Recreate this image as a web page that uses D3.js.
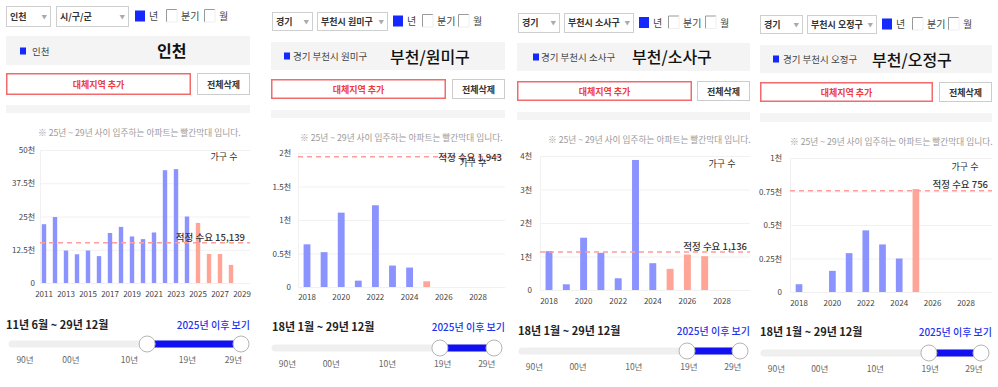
<!DOCTYPE html>
<html>
<head>
<meta charset="utf-8">
<script src="https://cdn.jsdelivr.net/npm/d3@7"></script>
<style>
body { margin: 0; background: #fff; }
svg { display: block; font-family: "Noto Sans CJK KR", "Noto Sans", sans-serif; }
</style>
</head>
<body>
<div id="canvas"></div>
<script>
var w = 998;
var h = 387;

// data (가구 수)
var incheonYears = [2011, 2012, 2013, 2014, 2015, 2016, 2017, 2018, 2019, 2020,
                    2021, 2022, 2023, 2024, 2025, 2026, 2027, 2028, 2029];
var incheonUnits = [22100, 24800, 12200, 10800, 12200, 10100, 18800, 21100, 17500, 16500,
                    19000, 42400, 42800, 25000, 22600, 10900, 10900, 6800, 0];
var incheonDemand = 15139;
var incheonYTicks = [0, 12500, 25000, 37500, 50000];
var incheonXTicks = [2011, 2013, 2015, 2017, 2019, 2021, 2023, 2025, 2027, 2029];

var bucheonYears = [2018, 2019, 2020, 2021, 2022, 2023, 2024, 2025, 2026, 2027, 2028, 2029];
var bucheonXTicks = [2018, 2020, 2022, 2024, 2026, 2028];

var wonmiUnits = [637, 520, 1110, 95, 1220, 320, 290, 85, 0, 0, 0, 0];
var wonmiDemand = 1943;
var wonmiYTicks = [0, 500, 1000, 1500, 2000];

var sosaUnits = [1160, 170, 1560, 1110, 350, 3880, 800, 630, 1060, 1010, 0, 0];
var sosaDemand = 1136;
var sosaYTicks = [0, 1000, 2000, 3000, 4000];

var ojeongUnits = [58, 0, 158, 290, 460, 355, 250, 768, 0, 0, 0, 0];
var ojeongDemand = 756;
var ojeongYTicks = [0, 250, 500, 750, 1000];

var futureFrom = 2025;
var sliderLabels = ["90년", "00년", "10년", "19년", "29년"];
var noteText = "※ 25년 ~ 29년 사이 입주하는 아파트는 빨간막대 입니다.";

var blue = "#8b93ff";
var red = "#ffa597";

var canvas = d3.select("#canvas")
    .append("svg")
    .attr("width", w)
    .attr("height", h)
    .style("background-color", "white");

var panels = [
  { sel1: "인천", sel2: "시/구/군", label: "인천", title: "인천", titleBold: true,
    years: incheonYears, units: incheonUnits, demand: incheonDemand,
    yTicks: incheonYTicks, xTicks: incheonXTicks, range: "11년 6월 ~ 29년 12월",
    lay: { selY: [6, 26], sel1: [6, 50], sel2: [56, 128], chkY: 16, chk: [135, 166, 204],
           box: [6, 250, 36, 65], sq: [20, 51], labelX: 32, titleX: 157, titleY: 51,
           btn1: [6, 191], btn2: [197, 250], btnY: [73, 95], strip: [105, 113], note: [38, 133],
           plot: [40, 250, 150, 283], band: [38.5, 247.5], yPad: 5, xPad: 8,
           hh: [224, 160], dl: [245, 241], rangeY: 325, track: [12, 241, 344], handle0: 0.59, slY: 359 } },
  { sel1: "경기", sel2: "부천시 원미구", label: "경기 부천시 원미구", title: "부천/원미구", titleBold: false,
    years: bucheonYears, units: wonmiUnits, demand: wonmiDemand,
    yTicks: wonmiYTicks, xTicks: bucheonXTicks, range: "18년 1월 ~ 29년 12월",
    lay: { selY: [12, 30], sel1: [272, 312], sel2: [317, 387], chkY: 21, chk: [393, 422, 458],
           box: [271, 505, 42, 70], sq: [284, 56], labelX: 293, titleX: 390, titleY: 57,
           btn1: [271, 446], btn2: [452, 505], btnY: [79, 99], strip: [110, 118], note: [300, 138],
           plot: [298, 505, 153, 287], band: [298.45, 503.65], yPad: 7, xPad: 7,
           hh: [473, 165.5], dl: [502, 160.5], rangeY: 327, track: [275, 494, 348], handle0: 0.753, slY: 363 } },
  { sel1: "경기", sel2: "부천시 소사구", label: "경기 부천시 소사구", title: "부천/소사구", titleBold: false,
    years: bucheonYears, units: sosaUnits, demand: sosaDemand,
    yTicks: sosaYTicks, xTicks: bucheonXTicks, range: "18년 1월 ~ 29년 12월",
    lay: { selY: [13, 32], sel1: [518, 559], sel2: [564, 633], chkY: 22.5, chk: [639, 668, 705],
           box: [517, 750, 43, 71], sq: [533, 57], labelX: 541, titleX: 632, titleY: 57,
           btn1: [517, 692], btn2: [697, 750], btnY: [81, 101], strip: [112, 120], note: [548, 140],
           plot: [540, 750, 156, 290], band: [540.35, 747.95], yPad: 8, xPad: 8,
           hh: [722, 166.5], dl: [747, 249.5], rangeY: 331, track: [522, 740, 351], handle0: 0.757, slY: 366 } },
  { sel1: "경기", sel2: "부천시 오정구", label: "경기 부천시 오정구", title: "부천/오정구", titleBold: false,
    years: bucheonYears, units: ojeongUnits, demand: ojeongDemand,
    yTicks: ojeongYTicks, xTicks: bucheonXTicks, range: "18년 1월 ~ 29년 12월",
    lay: { selY: [15, 33], sel1: [760, 802], sel2: [807, 876], chkY: 24, chk: [882, 912, 948],
           box: [760, 992, 45, 73], sq: [773, 59], labelX: 783, titleX: 872, titleY: 60,
           btn1: [760, 933], btn2: [939, 992], btnY: [82, 102], strip: [113, 122], note: [790, 142],
           plot: [790, 992, 158, 292], band: [790.65, 991.05], yPad: 8, xPad: 8,
           hh: [965, 169.5], dl: [988, 187.5], rangeY: 332, track: [764, 981, 353], handle0: 0.76, slY: 368 } }
];

var sliderFractions = [0.057, 0.257, 0.513, 0.766, 0.967];

function tickLabel(d) {
    return d === 0 ? "0" : (d / 1000) + "천";
}

function drawPanel(p) {
    var L = p.lay;
    var g = canvas.append("g");

    // selects
    [[L.sel1, p.sel1], [L.sel2, p.sel2]].forEach(function (s) {
        g.append("rect")
            .attr("x", s[0][0] + 0.5).attr("y", L.selY[0] + 0.5)
            .attr("width", s[0][1] - s[0][0]).attr("height", L.selY[1] - L.selY[0])
            .attr("fill", "#fff").attr("stroke", "#cfcfcf");
        g.append("text")
            .attr("x", s[0][0] + 4).attr("y", (L.selY[0] + L.selY[1]) / 2 + 3.5)
            .attr("font-size", 9).attr("font-weight", 700).attr("fill", "#333")
            .text(s[1]);
        g.append("text")
            .attr("x", s[0][1] - 3).attr("y", (L.selY[0] + L.selY[1]) / 2 + 2.5)
            .attr("text-anchor", "end")
            .attr("font-size", 5.5).attr("fill", "#aaa")
            .text("▼");
    });

    // checkboxes
    g.append("rect")
        .attr("x", L.chk[0]).attr("y", L.chkY - 5.5)
        .attr("width", 10).attr("height", 11)
        .attr("fill", "#1428ff");
    g.append("text").attr("x", L.chk[0] + 14).attr("y", L.chkY + 4)
        .attr("font-size", 10).attr("fill", "#444").text("년");
    [[L.chk[1], "분기"], [L.chk[2], "월"]].forEach(function (c) {
        g.append("path")
            .attr("d", "M" + (c[0] + 0.5) + "," + (L.chkY + 6) + "V" + (L.chkY - 6.5) + "H" + (c[0] + 11))
            .attr("fill", "none").attr("stroke", "#9a9a9a");
        g.append("path")
            .attr("d", "M" + (c[0] + 11) + "," + (L.chkY - 6.5) + "V" + (L.chkY + 6) + "H" + (c[0] + 0.5))
            .attr("fill", "none").attr("stroke", "#eee");
        g.append("text").attr("x", c[0] + 15).attr("y", L.chkY + 4)
            .attr("font-size", 10).attr("fill", "#444").text(c[1]);
    });

    // header box
    g.append("rect")
        .attr("x", L.box[0]).attr("y", L.box[2])
        .attr("width", L.box[1] - L.box[0]).attr("height", L.box[3] - L.box[2])
        .attr("fill", "#f4f4f4");
    g.append("rect")
        .attr("x", L.sq[0]).attr("y", L.sq[1] - 3.5)
        .attr("width", 6).attr("height", 7)
        .attr("fill", "#1428ff");
    g.append("text")
        .attr("x", L.labelX).attr("y", L.sq[1] + 3.5)
        .attr("font-size", 9.5).attr("fill", "#444")
        .text(p.label);
    g.append("text")
        .attr("x", L.titleX).attr("y", L.titleY + 5.5)
        .attr("font-size", 16).attr("font-weight", p.titleBold ? 700 : 500).attr("fill", "#111")
        .text(p.title);

    // buttons
    g.append("rect")
        .attr("x", L.btn1[0] + 0.75).attr("y", L.btnY[0] + 0.75)
        .attr("width", L.btn1[1] - L.btn1[0] - 1.5).attr("height", L.btnY[1] - L.btnY[0] - 1.5)
        .attr("fill", "#fff").attr("stroke", "#f26a6a").attr("stroke-width", 1.5);
    g.append("text")
        .attr("x", (L.btn1[0] + L.btn1[1]) / 2).attr("y", (L.btnY[0] + L.btnY[1]) / 2 + 3.5)
        .attr("text-anchor", "middle")
        .attr("font-size", 9).attr("font-weight", 700).attr("fill", "#ee3b3b")
        .text("대체지역 추가");
    g.append("rect")
        .attr("x", L.btn2[0] + 0.5).attr("y", L.btnY[0] + 0.5)
        .attr("width", L.btn2[1] - L.btn2[0] - 1).attr("height", L.btnY[1] - L.btnY[0] - 1)
        .attr("fill", "#fff").attr("stroke", "#ccc");
    g.append("text")
        .attr("x", (L.btn2[0] + L.btn2[1]) / 2).attr("y", (L.btnY[0] + L.btnY[1]) / 2 + 3.5)
        .attr("text-anchor", "middle")
        .attr("font-size", 9).attr("font-weight", 700).attr("fill", "#333")
        .text("전체삭제");

    g.append("rect")
        .attr("x", L.box[0]).attr("y", L.strip[0])
        .attr("width", L.box[1] - L.box[0]).attr("height", L.strip[1] - L.strip[0])
        .attr("fill", "#f4f4f4");

    g.append("text")
        .attr("x", L.note[0]).attr("y", L.note[1] + 3)
        .attr("font-size", 8.7).attr("fill", "#9a9a9a")
        .text(noteText);

    // chart
    var xScale = d3.scaleBand()
        .domain(p.years)
        .range(L.band)
        .paddingInner(0.6)
        .paddingOuter(0.3);
    var yScale = d3.scaleLinear()
        .domain([0, p.yTicks[p.yTicks.length - 1]])
        .range([L.plot[3], L.plot[2]]);

    g.selectAll(".grid")
        .data(p.yTicks)
        .join("line")
        .attr("x1", L.plot[0]).attr("x2", L.plot[1])
        .attr("y1", d => yScale(d) + 0.5).attr("y2", d => yScale(d) + 0.5)
        .attr("stroke", "#f1f1f1");
    g.append("line")
        .attr("x1", L.plot[0] + 0.5).attr("x2", L.plot[0] + 0.5)
        .attr("y1", L.plot[2]).attr("y2", L.plot[3])
        .attr("stroke", "#f1f1f1");

    var yAxis = d3.axisLeft(yScale)
        .tickValues(p.yTicks)
        .tickFormat(tickLabel)
        .tickSize(0)
        .tickPadding(L.yPad);
    var ya = g.append("g")
        .attr("transform", `translate(${L.plot[0]}, 0)`)
        .call(yAxis);
    ya.select(".domain").remove();
    ya.selectAll("text").attr("font-size", 8).attr("fill", "#444")
        .attr("font-family", "'Noto Sans CJK KR', sans-serif");

    var xAxis = d3.axisBottom(xScale)
        .tickValues(p.xTicks)
        .tickSize(0)
        .tickPadding(L.xPad);
    var xa = g.append("g")
        .attr("transform", `translate(0, ${L.plot[3]})`)
        .call(xAxis);
    xa.select(".domain").remove();
    xa.selectAll("text").attr("font-size", 8).attr("fill", "#444")
        .attr("font-family", "'Noto Sans CJK KR', sans-serif");

    g.selectAll(".bar")
        .data(p.years.map((y, i) => ({ year: y, v: p.units[i] })).filter(d => d.v > 0))
        .join("rect")
        .attr("x", d => xScale(d.year))
        .attr("width", xScale.bandwidth())
        .attr("y", d => yScale(d.v))
        .attr("height", d => yScale(0) - yScale(d.v))
        .attr("fill", d => d.year >= futureFrom ? red : blue);

    g.append("line")
        .attr("x1", L.plot[0]).attr("x2", L.plot[1])
        .attr("y1", yScale(p.demand)).attr("y2", yScale(p.demand))
        .attr("stroke", "#ff9c9c").attr("stroke-width", 1.5)
        .attr("stroke-dasharray", "5,4");

    g.append("text")
        .attr("x", L.hh[0]).attr("y", L.hh[1])
        .attr("text-anchor", "middle")
        .attr("font-size", 9).attr("fill", "#333")
        .text("가구 수");
    g.append("text")
        .attr("x", L.dl[0]).attr("y", L.dl[1])
        .attr("text-anchor", "end")
        .attr("font-size", 9.5).attr("font-weight", 500).attr("fill", "#333")
        .text("적정 수요 " + d3.format(",")(p.demand));

    // period slider
    g.append("text")
        .attr("x", L.sel1[0]).attr("y", L.rangeY + 4)
        .attr("font-size", 11).attr("font-weight", 700).attr("fill", "#222")
        .text(p.range);
    g.append("text")
        .attr("x", L.box[1]).attr("y", L.rangeY + 4)
        .attr("text-anchor", "end")
        .attr("font-size", 10).attr("font-weight", 500).attr("fill", "#2233ee")
        .text("2025년 이후 보기");

    var sx = d3.scaleLinear().domain([0, 1]).range([L.track[0], L.track[1]]);
    g.append("line")
        .attr("x1", sx(0)).attr("x2", sx(1))
        .attr("y1", L.track[2]).attr("y2", L.track[2])
        .attr("stroke", "#efefef").attr("stroke-width", 7).attr("stroke-linecap", "round");
    g.append("line")
        .attr("x1", sx(L.handle0)).attr("x2", sx(1))
        .attr("y1", L.track[2]).attr("y2", L.track[2])
        .attr("stroke", "#1010f0").attr("stroke-width", 7);
    g.selectAll(".handle")
        .data([L.handle0, 1])
        .join("circle")
        .attr("cx", d => sx(d)).attr("cy", L.track[2]).attr("r", 8)
        .attr("fill", "#fff").attr("stroke", "#b5b5b5").attr("stroke-width", 1);
    g.selectAll(".slab")
        .data(sliderLabels)
        .join("text")
        .attr("x", (d, i) => sx(sliderFractions[i]))
        .attr("y", L.slY + 3.5)
        .attr("text-anchor", "middle")
        .attr("font-size", 8.5).attr("fill", "#666")
        .text(d => d);
}

panels.forEach(drawPanel);
</script>
</body>
</html>
